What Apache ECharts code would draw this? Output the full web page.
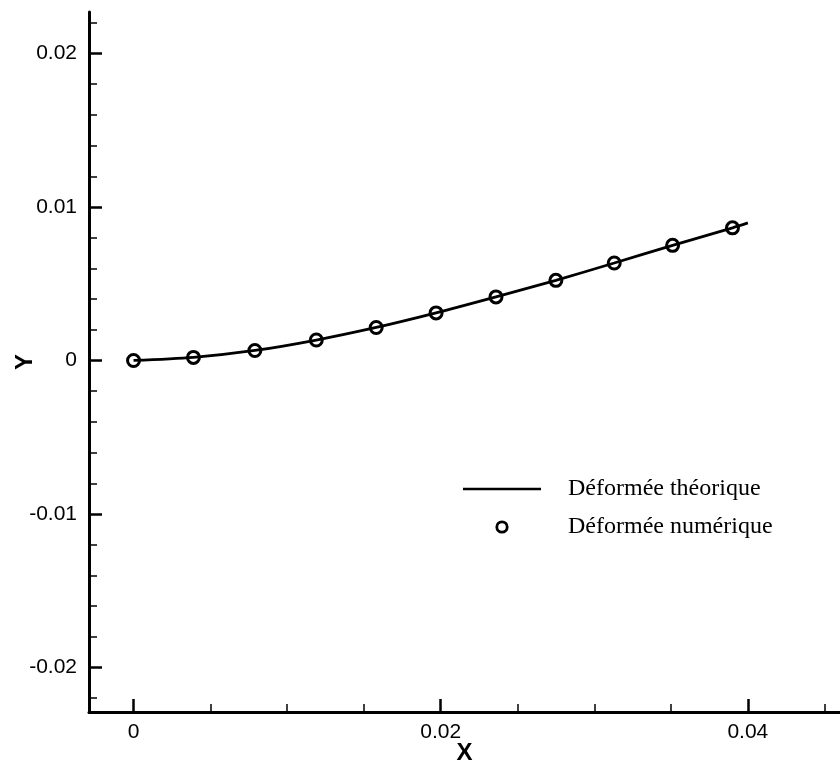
<!DOCTYPE html>
<html>
<head>
<meta charset="utf-8">
<script src="https://cdn.jsdelivr.net/npm/echarts@6/dist/echarts.min.js"></script>
<style>
  html, body { margin: 0; padding: 0; background: #fff; }
  #chart { width: 840px; height: 767px; }
</style>
</head>
<body>
<div id="chart"></div>
<script>
// values
const pointX = [0, 0.0039, 0.0079, 0.0119, 0.0158, 0.0197, 0.0236, 0.0275, 0.0313, 0.0351, 0.039];
const pointY = [0, 0.0002, 0.00065, 0.00133, 0.00215, 0.0031, 0.00414, 0.00522, 0.00635, 0.0075, 0.00864];
const lineX = [0, 0.0039, 0.0079, 0.0119, 0.0158, 0.0197, 0.0236, 0.0275, 0.0313, 0.0351, 0.039, 0.04];
const lineY = [0, 0.0002, 0.00065, 0.00133, 0.00215, 0.0031, 0.00414, 0.00522, 0.00635, 0.0075, 0.00864, 0.00896];

const xTicks = [0, 0.02, 0.04];
const xMinorTicks = [0.005, 0.01, 0.015, 0.025, 0.03, 0.035, 0.045];
const yTicks = [-0.02, -0.01, 0, 0.01, 0.02];
const yMinorTicks = [0.022, 0.018, 0.016, 0.014, 0.012, 0.008, 0.006, 0.004, 0.002,
  -0.002, -0.004, -0.006, -0.008, -0.012, -0.014, -0.016, -0.018, -0.022];

const seriesNames = ['Déformée théorique', 'Déformée numérique'];

const chart = echarts.init(document.getElementById('chart'));

const X_MIN = -0.0029, X_MAX = 0.046;
const Y_MIN = -0.0229, Y_MAX = 0.0227;
const labelFont = { color: '#000', fontFamily: 'Liberation Sans', fontSize: 21 };
const nameFont = { color: '#000', fontFamily: 'Liberation Sans', fontWeight: 'bold', fontSize: 24 };
const legendFont = { color: '#000', fontFamily: 'Liberation Serif', fontSize: 24, padding: [0, 0, 0, 22] };

const minorAxis = (min, max, values, pos) => ({
  type: 'value', min, max, position: pos,
  axisLine: { show: false, onZero: false },
  axisLabel: { show: false },
  splitLine: { show: false },
  axisTick: { inside: true, length: 8, customValues: values, lineStyle: { color: '#000', width: 1.5 } },
});

chart.setOption({
  animation: false,
  grid: { left: 89, right: 0, top: 12, bottom: 55, outerBoundsMode: 'none', containLabel: false },
  legend: [
    {
      data: [{ name: seriesNames[0], icon: 'rect' }],
      left: 463, top: 477, padding: 0,
      itemWidth: 78, itemHeight: 2.5,
      textStyle: legendFont,
    },
    {
      data: [seriesNames[1]],
      left: 463, top: 515, padding: 0,
      itemWidth: 78, itemHeight: 13,
      lineStyle: { width: 0, opacity: 0 },
      itemStyle: { color: 'transparent', borderColor: '#000', borderWidth: 2.8 },
      textStyle: legendFont,
    },
  ],
  xAxis: [
    {
      type: 'value', min: X_MIN, max: X_MAX, position: 'bottom',
      name: 'X', nameLocation: 'middle', nameGap: 29, nameMoveOverlap: false,
      nameTextStyle: nameFont,
      axisLine: { onZero: false, lineStyle: { color: '#000', width: 3 } },
      axisTick: { inside: true, length: 13, customValues: xTicks, lineStyle: { color: '#000', width: 2.5 } },
      axisLabel: Object.assign({ customValues: xTicks, margin: 10, formatter: (v) => String(v) }, labelFont),
      splitLine: { show: false },
    },
    minorAxis(X_MIN, X_MAX, xMinorTicks, 'bottom'),
  ],
  yAxis: [
    {
      type: 'value', min: Y_MIN, max: Y_MAX, position: 'left',
      name: 'Y', nameLocation: 'middle', nameGap: 52, nameMoveOverlap: false,
      nameTextStyle: nameFont,
      axisLine: { onZero: false, lineStyle: { color: '#000', width: 3 } },
      axisTick: { inside: true, length: 13, customValues: yTicks, lineStyle: { color: '#000', width: 2.5 } },
      axisLabel: Object.assign({ customValues: yTicks, margin: 12, formatter: (v) => String(v) }, labelFont),
      splitLine: { show: false },
    },
    minorAxis(Y_MIN, Y_MAX, yMinorTicks, 'left'),
  ],
  series: [
    {
      name: seriesNames[0],
      type: 'line',
      smooth: 0.3,
      showSymbol: false,
      symbol: 'none',
      color: '#000',
      lineStyle: { color: '#000', width: 2.8 },
      data: lineX.map((x, i) => [x, lineY[i]]),
      z: 2,
    },
    {
      name: seriesNames[1],
      type: 'line',
      symbol: 'circle',
      symbolSize: 12,
      showSymbol: true,
      color: '#000',
      lineStyle: { width: 0, opacity: 0 },
      itemStyle: { color: 'transparent', borderColor: '#000', borderWidth: 3 },
      data: pointX.map((x, i) => [x, pointY[i]]),
      z: 3,
    },
  ],
});
</script>
</body>
</html>
